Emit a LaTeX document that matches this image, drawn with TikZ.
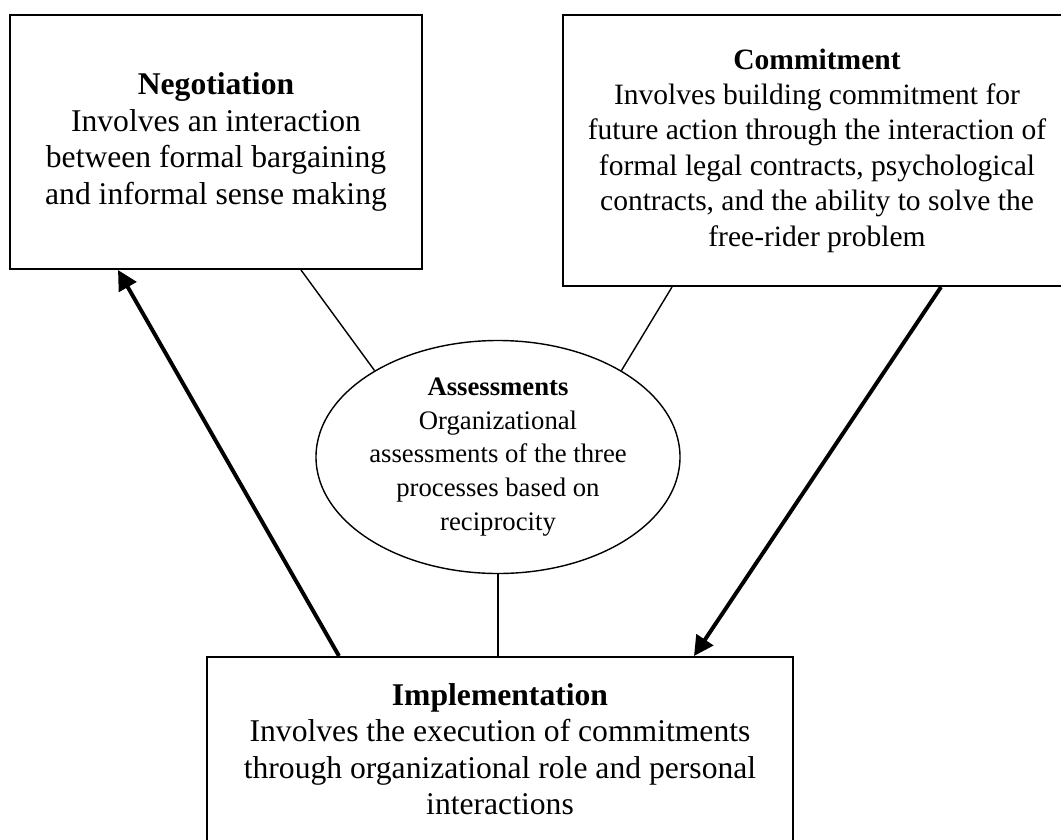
\documentclass[tikz,border=0pt]{standalone}
\usepackage{fontspec}
\setmainfont{Liberation Serif}
\usetikzlibrary{arrows.meta,positioning,shapes.geometric}

\begin{document}
\begin{tikzpicture}[
  box/.style = {draw, line width=1.4pt, align=center, inner sep=0pt, font=\fontsize{22.5}{26}\selectfont},
  oval/.style = {draw, ellipse, line width=1pt, align=center, inner sep=0pt, minimum width=7.775cm, minimum height=5.825cm, font=\fontsize{19}{24}\selectfont},
  link/.style = {line width=1pt},
  arrow/.style = {line width=2.8pt, -{Triangle[length=14pt, width=14pt]}}
  ]

\useasboundingbox (0,0) rectangle (26.525,-20.975);

% Top layer: the two processes
\node[box, minimum width=10.3cm, minimum height=6.35cm] (negotiation) at (5.4,-3.55)
  {\textbf{Negotiation}\\ Involves an interaction\\ between formal bargaining\\ and informal sense making};
\node[box, minimum width=12.7cm, minimum height=6.775cm, font=\fontsize{21}{25.2}\selectfont] (commitment) at (20.425,-3.7625)
  {\textbf{Commitment}\\ Involves building commitment for\\ future action through the interaction of\\ formal legal contracts, psychological\\ contracts, and the ability to solve the\\ free-rider problem};

% Middle: assessments
\node[oval] (assessment) at (12.45,-11.425)
  {\textbf{Assessments}\\ Organizational\\ assessments of the three\\ processes based on\\ reciprocity};

% Bottom layer
\node[box, minimum width=14.65cm, minimum height=4.6cm] (implementation) at (12.5,-18.725)
  {\textbf{Implementation}\\ Involves the execution of commitments\\ through organizational role and personal\\ interactions};

% Thin links to the assessments
\draw[link] ([xshift=2.125cm]negotiation.south) -- (assessment.145);
\draw[link] ([xshift=-3.625cm]commitment.south) -- (assessment.35);
\draw[link] (assessment.south) -- (assessment.south |- implementation.north);

% Draw arrows
\draw[arrow] ([xshift=-4.025cm]implementation.north) -- ([xshift=-2.45cm]negotiation.south);
\draw[arrow] ([xshift=3.1cm]commitment.south) -- ([xshift=4.85cm]implementation.north);
\end{tikzpicture}
\end{document}
